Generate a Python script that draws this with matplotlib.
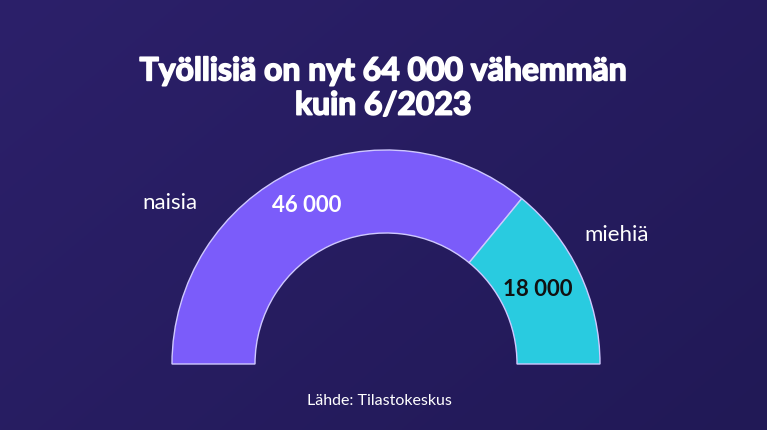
import numpy as np
import matplotlib
matplotlib.use("Agg")
import matplotlib.pyplot as plt
import matplotlib.patheffects as pe

# data
groups = ["naisia", "miehiä"]
values = [46000, 18000]
value_labels = ["46 000", "18 000"]
colors = ["#7b5cfa", "#29cbe0"]
title = "Työllisiä on nyt 64 000 vähemmän\nkuin 6/2023"
source = "Lähde: Tilastokeskus"

plt.rcParams["font.family"] = ["Lato", "DejaVu Sans"]

W, H = 767, 431
fig = plt.figure(figsize=(W / 100, H / 100), dpi=100)
ax = fig.add_axes([0, 0, 1, 1])

# background gradient, slightly lighter at lower left
yy, xx = np.mgrid[0:1:200j, 0:1:300j]
t = 0.6 * xx + 0.4 * (1 - yy)
c0 = np.array([0x2c, 0x20, 0x6a]) / 255
c1 = np.array([0x21, 0x19, 0x56]) / 255
grad = c0 + (c1 - c0) * t[..., None]
ax.imshow(grad, extent=[0, W, 0, H], origin="lower", aspect="auto", zorder=0)

# half donut: hidden third wedge fills the lower half
cx, cy = 386, H - 365
r_out, r_in = 214, 131
wedges, _ = ax.pie(values + [sum(values)], colors=colors + ["none"],
                   startangle=180, counterclock=False,
                   center=(cx, cy), radius=r_out, frame=True,
                   wedgeprops=dict(width=r_out - r_in, edgecolor="#cfc8ff",
                                   linewidth=1))
wedges[2].set_edgecolor("none")
for w in wedges:
    w.set_zorder(2)

ax.set_xlim(0, W)
ax.set_ylim(0, H)
ax.set_aspect("auto")
ax.axis("off")

# heavy title: bold + thin white stroke to thicken it
fig.text(0.5, 1 - 89 / H, title, ha="center", va="center", color="white",
         fontsize=23, fontweight="bold", linespacing=1.22,
         path_effects=[pe.withStroke(linewidth=1.2, foreground="white")])

# category labels outside, values inside
ax.text(170, H - 203, groups[0], ha="center", va="center", color="white",
        fontsize=16, zorder=3)
ax.text(617, H - 235, groups[1], ha="center", va="center", color="white",
        fontsize=16, zorder=3)
ax.text(307, H - 206, value_labels[0], ha="center", va="center", color="white",
        fontsize=16, fontweight="bold", zorder=3)
ax.text(538, H - 289, value_labels[1], ha="center", va="center", color="#111111",
        fontsize=16, fontweight="bold", zorder=3)

ax.text(379, H - 401, source, ha="center", va="center", color="white",
        fontsize=11.5, zorder=3)

fig.savefig("out.png", dpi=100)
